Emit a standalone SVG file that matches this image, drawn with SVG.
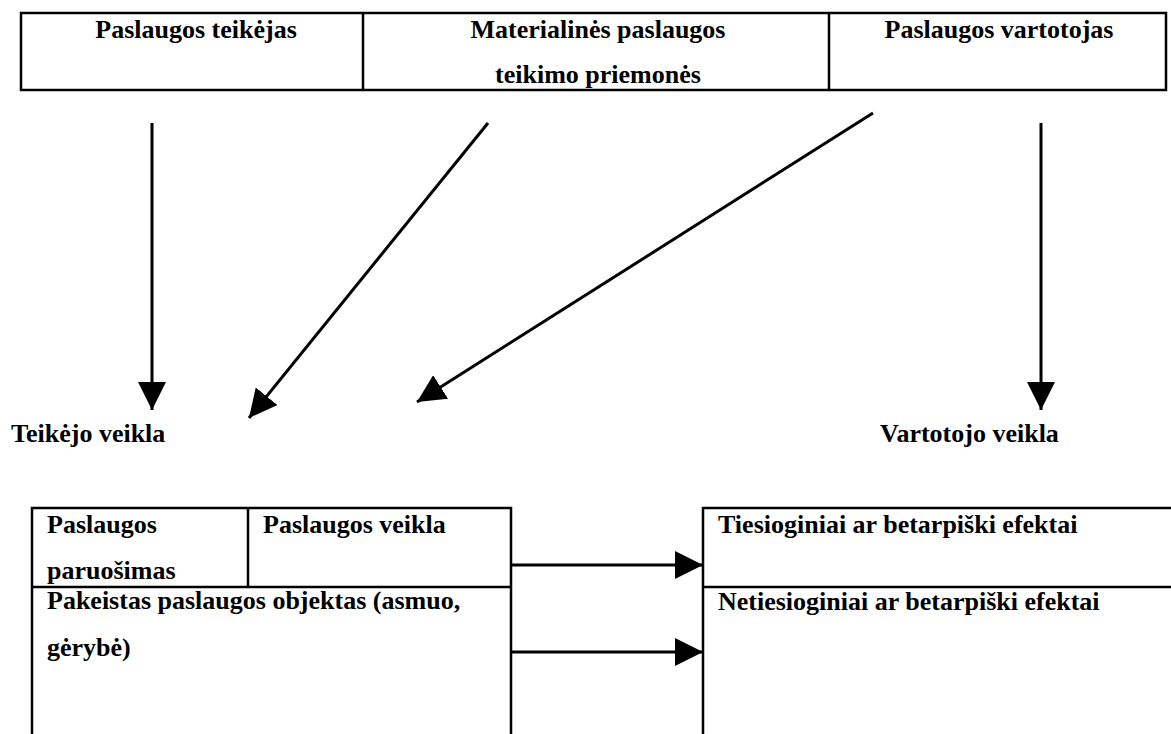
<svg xmlns="http://www.w3.org/2000/svg" width="1171" height="734" viewBox="0 0 1171 734">
<style>
  .t { font-family: "Liberation Serif", "Times New Roman", serif; font-weight: bold; font-size: 26px; fill: #000; }
  .box { fill: none; stroke: #000; stroke-width: 2.5; }
  .ln { stroke: #000; stroke-width: 2.5; fill: none; }
  .conn { stroke: #000; stroke-width: 3; fill: none; }
</style>
<defs>
  <marker id="ah" viewBox="0 0 10 10" refX="10" refY="5" markerUnits="userSpaceOnUse" markerWidth="28" markerHeight="28" orient="auto">
    <path d="M0,0 L10,5 L0,10 Z" fill="#000"/>
  </marker>
</defs>
<rect width="1171" height="734" fill="#fff"/>

<g id="top-table">
  <rect class="box" x="21" y="13" width="1145" height="77"/>
  <line class="ln" x1="363" y1="13" x2="363" y2="90"/>
  <line class="ln" x1="829" y1="13" x2="829" y2="90"/>
</g>
<g id="node-teikejas">
  <text class="t" x="196" y="38" text-anchor="middle">Paslaugos teikėjas</text>
</g>
<g id="node-priemones">
  <text class="t" x="598" y="38" text-anchor="middle">Materialinės paslaugos</text>
  <text class="t" x="598" y="83" text-anchor="middle">teikimo priemonės</text>
</g>
<g id="node-vartotojas">
  <text class="t" x="999" y="38" text-anchor="middle">Paslaugos vartotojas</text>
</g>

<g id="label-teikejo">
  <text class="t" x="11" y="442">Teikėjo veikla</text>
</g>
<g id="label-vartotojo">
  <text class="t" x="880" y="442">Vartotojo veikla</text>
</g>

<g id="node-left-table">
  <path class="box" d="M32,736 V508 H511 V736"/>
  <line class="ln" x1="248" y1="508" x2="248" y2="587"/>
  <line class="ln" x1="32" y1="587" x2="511" y2="587"/>
  <text class="t" x="47" y="533">Paslaugos</text>
  <text class="t" x="47" y="579">paruošimas</text>
  <text class="t" x="263" y="533">Paslaugos veikla</text>
  <text class="t" x="47" y="609">Pakeistas paslaugos objektas (asmuo,</text>
  <text class="t" x="47" y="656">gėrybė)</text>
</g>

<g id="node-right-table">
  <path class="box" d="M703,736 V508 H1173"/>
  <line class="ln" x1="703" y1="587" x2="1173" y2="587"/>
  <text class="t" x="718" y="533">Tiesioginiai ar betarpiški efektai</text>
  <text class="t" x="718" y="610">Netiesioginiai ar betarpiški efektai</text>
</g>

<g id="connectors">
  <line class="conn" x1="152" y1="123" x2="152" y2="410" marker-end="url(#ah)"/>
  <line class="conn" x1="488" y1="123" x2="249" y2="418" marker-end="url(#ah)"/>
  <line class="conn" x1="873" y1="113" x2="417" y2="402" marker-end="url(#ah)"/>
  <line class="conn" x1="1041" y1="123" x2="1041" y2="410" marker-end="url(#ah)"/>
  <line class="conn" x1="511" y1="565" x2="703" y2="565" marker-end="url(#ah)"/>
  <line class="conn" x1="511" y1="652" x2="703" y2="652" marker-end="url(#ah)"/>
</g>
</svg>
